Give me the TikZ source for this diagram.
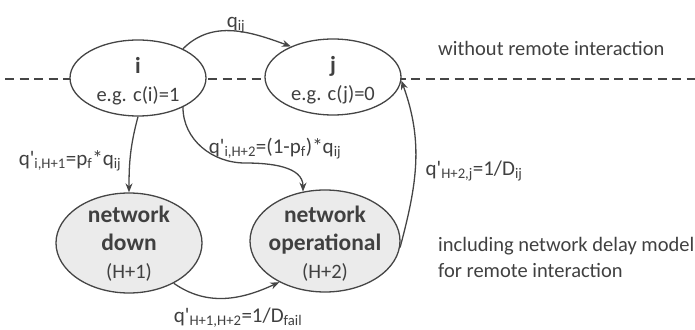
\documentclass[tikz,border=0pt]{standalone}
\usepackage{fontspec}
\setmainfont{Carlito}
\usetikzlibrary{shapes.geometric,arrows.meta}
\definecolor{ln}{HTML}{454545}
\definecolor{tx}{HTML}{404040}
\definecolor{fillg}{HTML}{EBEBEB}
\newcommand{\qp}{q\textquotesingle}
\begin{document}
\begin{tikzpicture}[x=1pt,y=1pt,
  st/.style={ellipse, draw=ln, line width=1.3pt, inner sep=0pt},
  sttext/.style={align=center, text=tx, inner sep=0pt, font=\fontsize{20.5}{28}\selectfont},
  lbl/.style={text=tx, inner sep=0pt, font=\fontsize{21}{25}\selectfont},
  note/.style={text=tx, inner sep=0pt, align=left, anchor=west, font=\fontsize{20.5}{26}\selectfont},
  arr/.style={draw=ln, line width=1.3pt, -{Stealth[length=9pt,width=7pt]}}]
\useasboundingbox (0,0) rectangle (695,329);
\draw[ln, line width=1.2pt, dash pattern=on 9pt off 5.5pt] (5,250) -- (695,250);
% states
\node[st, fill=white, minimum width=136, minimum height=76] (i) at (138,251) {};
\node[st, fill=white, minimum width=136, minimum height=76] (j) at (333,252) {};
\node[st, fill=fillg, minimum width=146, minimum height=100] (down) at (129,86) {};
\node[st, fill=fillg, minimum width=150, minimum height=102] (op) at (325,88) {};
\node[sttext] (it) at (138,248) {{\fontsize{23}{28}\selectfont\bfseries i}\\e.g. c(i)=1};
\node[sttext] (jt) at (333,249) {{\fontsize{23}{28}\selectfont\bfseries j}\\e.g. c(j)=0};
\node[sttext] (downt) at (129,85) {{\fontsize{23.5}{28}\selectfont\bfseries network}\\{\fontsize{23.5}{28}\selectfont\bfseries down}\\(H+1)};
\node[sttext] (opt) at (325,85) {{\fontsize{23.5}{28}\selectfont\bfseries network}\\{\fontsize{23.5}{28}\selectfont\bfseries operational}\\(H+2)};
% connectors
\coordinate (mid) at (245,166);
\draw[arr] (i.33) to[out=45,in=160] (j.144);
\draw[arr] (i.south) to[out=-105,in=90] (down.north);
\draw[arr] (i.-33) to[out=-90,in=180] (mid) to[out=0,in=90] (op.114);
\draw[arr] (op.-5) to[out=75,in=-70] (j.-3);
\draw[arr] (down.-42) to[out=-35,in=-155] (op.-138);
% labels
\node[lbl] (l1) at (236,304) {q\textsubscript{ij}};
\node[lbl] (l2) at (70,168) {\qp\textsubscript{i,H+1}=p\textsubscript{f}*q\textsubscript{ij}};
\node[lbl] (l3) at (275,180) {\qp\textsubscript{i,H+2}=(1-p\textsubscript{f})*q\textsubscript{ij}};
\node[lbl] (l4) at (474,158) {\qp\textsubscript{H+2,j}=1/D\textsubscript{ij}};
\node[lbl] (l5) at (238,11) {\qp\textsubscript{H+1,H+2}=1/D\textsubscript{fail}};
\node[note] (n1) at (438,281) {without remote interaction};
\node[note] (n2) at (438,72) {including network delay model\\for remote interaction};
\end{tikzpicture}
\end{document}
